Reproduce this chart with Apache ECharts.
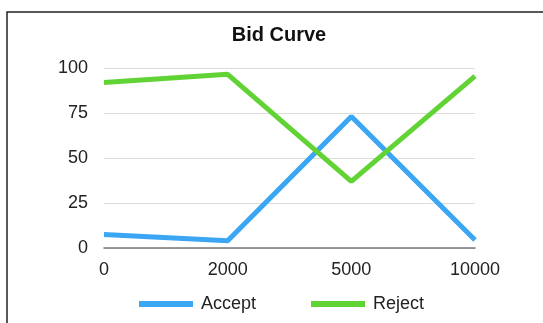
<!DOCTYPE html>
<html>
<head>
<meta charset="utf-8">
<script src="https://cdn.jsdelivr.net/npm/echarts@6/dist/echarts.min.js"></script>
<style>
  html, body { margin: 0; padding: 0; background: #fff; }
  #chart { width: 543px; height: 323px; }
</style>
</head>
<body>
<div id="chart"></div>
<script>
// 图表数据
const categories = ['0', '2000', '5000', '10000'];
const acceptValues = [7.5, 4, 73, 4.5];
const rejectValues = [92, 96.5, 37, 95.5];
const yTicks = [0, 25, 50, 75, 100];

const font = '"Liberation Sans", Arial, sans-serif';
const chart = echarts.init(document.getElementById('chart'));

chart.setOption({
  animation: false,
  backgroundColor: '#fff',
  // 外框
  graphic: [{
    type: 'rect',
    shape: { x: 7, y: 12, width: 600, height: 400 },
    style: { fill: 'none', stroke: '#222', lineWidth: 1.5 },
    silent: true
  }],
  title: {
    text: 'Bid Curve',
    left: 274,
    textAlign: 'center',
    top: 20,
    textStyle: { fontFamily: font, fontSize: 20, fontWeight: 'bold', color: '#111' }
  },
  legend: {
    left: 134,
    top: 290,
    icon: 'rect',
    itemWidth: 54,
    itemHeight: 6,
    itemGap: 55,
    textStyle: { fontFamily: font, fontSize: 18, color: '#222', padding: [0, 0, 0, 3] },
    data: ['Accept', 'Reject']
  },
  grid: { left: 104, right: 68, top: 68, bottom: 75 },
  xAxis: {
    type: 'category',
    data: categories,
    boundaryGap: false,
    axisLine: { lineStyle: { color: '#777', width: 1.5 } },
    axisTick: { show: false },
    axisLabel: { margin: 13, fontFamily: font, fontSize: 18, color: '#222' }
  },
  yAxis: {
    type: 'value',
    min: yTicks[0],
    max: yTicks[yTicks.length - 1],
    interval: 25,
    axisLine: { show: false },
    axisTick: { show: false },
    axisLabel: { margin: 16, fontFamily: font, fontSize: 18, color: '#222' },
    splitLine: { lineStyle: { color: '#dcdcdc', width: 1.2 } }
  },
  series: [
    {
      name: 'Accept',
      type: 'line',
      data: acceptValues,
      symbol: 'none',
      color: '#3aa6f4',
      lineStyle: { width: 5, color: '#3aa6f4' }
    },
    {
      name: 'Reject',
      type: 'line',
      data: rejectValues,
      symbol: 'none',
      color: '#62d335',
      lineStyle: { width: 5, color: '#62d335' }
    }
  ]
});
</script>
</body>
</html>
